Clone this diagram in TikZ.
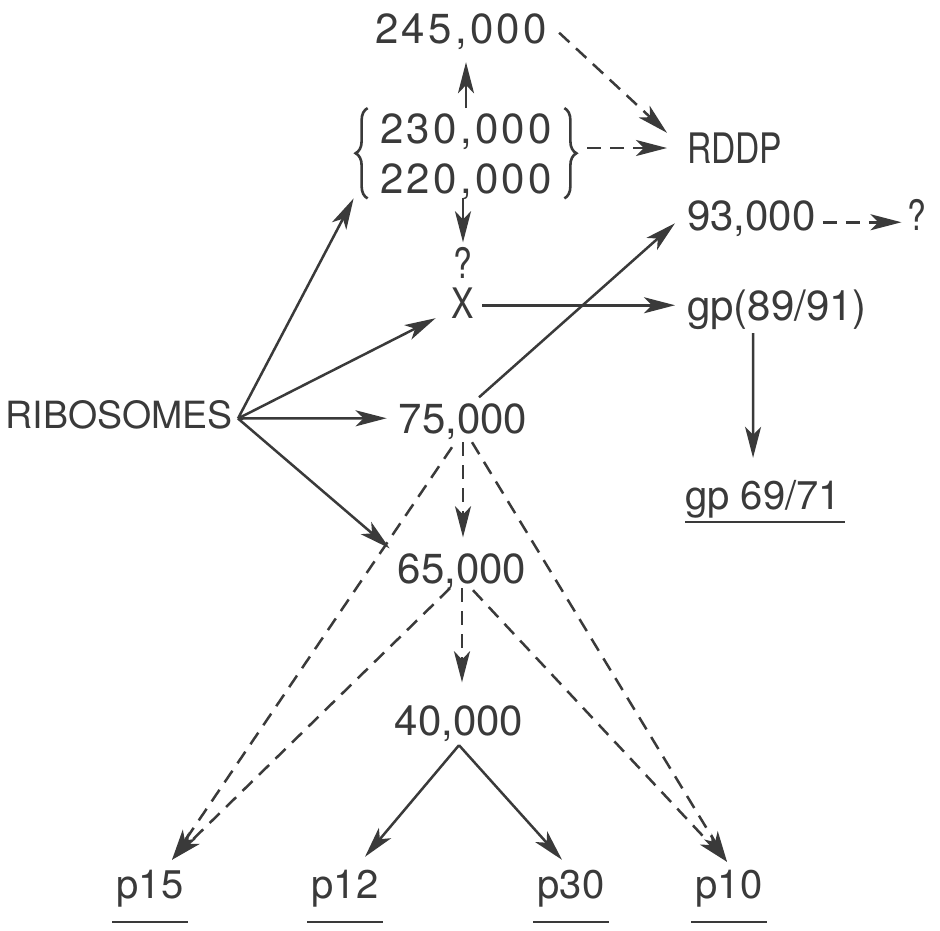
\documentclass[tikz,border=0pt]{standalone}
\usepackage{fontspec}
\setmainfont{TeX Gyre Heros}
\newfontfamily\narrowfont{TeX Gyre Heros}[FakeStretch=0.8]
\usetikzlibrary{arrows.meta,decorations.pathreplacing,fit}
\definecolor{ink}{HTML}{3A3A3A}
\tikzset{
  txt/.style={inner sep=0pt, text height=29.5pt, text depth=0pt, anchor=base,
    text=ink, font=\fontsize{42}{50}\selectfont},
  wide/.style={font=\fontsize{42}{50}\selectfont\addfontfeatures{LetterSpace=8}},
  small/.style={txt, text height=28pt, font=\fontsize{40}{48}\selectfont},
  arr/.style={draw=ink, line width=2.5pt, -{Stealth[length=31pt,width=16pt,inset=8pt]}},
  darr/.style={arr, dash pattern=on 14pt off 9pt},
  uline/.style={draw=ink, line width=2.7pt},
  bracestyle/.style={draw=ink, line width=2.6pt, decorate, decoration={brace, amplitude=12pt}},
}
\begin{document}
\begin{tikzpicture}[x=1pt, y=-1pt]
\fill[white] (0,0) rectangle (940,930);
\useasboundingbox (0,0) rectangle (940,930);

% labels
\node[txt, wide] (n245) at (461,43) {245,000};
\node[txt, wide] (n230) at (466,143) {230,000};
\node[txt, wide] (n220) at (466,193) {220,000};
\node[fit=(n230)(n220), inner xsep=12pt, inner ysep=5pt] (pair) {};
\node[txt, anchor=base west, text height=30pt, font=\narrowfont\fontsize{42}{50}\selectfont] (rddp) at (687,163) {RDDP};
\node[txt, anchor=base west] (n93) at (687,230) {93,000};
\node[txt, font=\narrowfont\fontsize{42}{50}\selectfont] (nq2) at (917,230) {?};
\node[txt, font=\narrowfont\fontsize{42}{50}\selectfont] (nq1) at (463,278) {?};
\node[txt, font=\narrowfont\fontsize{42}{50}\selectfont] (nX) at (463,318) {X};
\node[txt, anchor=base west] (ngp) at (687,320) {gp(89/91)};
\node[txt, text height=27pt, anchor=base east, font=\fontsize{37.5}{45}\selectfont] (nrib) at (233,428) {RIBOSOMES};
\node[txt] (n75) at (463,433) {75,000};
\node[small, anchor=base west] (n6971) at (685,509) {gp 69/71};
\node[txt] (n65) at (462,583) {65,000};
\node[txt] (n40) at (459,735) {40,000};
\node[small] (p15) at (150,898) {p15};
\node[small] (p12) at (345,898) {p12};
\node[small] (p30) at (571,898) {p30};
\node[small] (p10) at (729,898) {p10};

% braces round the pair of bands
\draw[bracestyle] (pair.south west) -- (pair.north west);
\draw[bracestyle] (pair.north east) -- (pair.south east);

% underlined end products
\draw[uline] ([shift={(0pt,-13pt)}]n6971.base west) -- ([shift={(4pt,-13pt)}]n6971.base east);
\foreach \n in {p15,p12,p30,p10} {
  \draw[uline] ([shift={(-4pt,-24pt)}]\n.base west) -- ([shift={(4pt,-24pt)}]\n.base east);
}

% ribosome products
\coordinate (hub) at ([shift={(5pt,-4pt)}]nrib.east);
\draw[arr] (hub) -- ([xshift=-14pt]pair.south west);
\draw[arr] (hub) -- ([xshift=-16pt]nX.south west);
\draw[arr] (hub) -- ([xshift=-12pt]n75.west);
\draw[arr] (hub) -- ([shift={(-8pt,5pt)}]n65.north west);

% upper part
\draw[arr, shorten >=19pt] (pair.north) -- (pair.north |- n245.south);
\draw[arr, shorten >=6pt] (nq1.north |- pair.south) -- (nq1.north);
\draw[darr] ([shift={(12pt,-4.5pt)}]n245.east) -- ([xshift=-20pt]rddp.north west);
\draw[darr, shorten <=23pt, shorten >=20pt] (rddp.west -| pair.east) -- (rddp.west);
\draw[darr] ([shift={(7pt,-7pt)}]n93.east) -- ([shift={(-6pt,-7pt)}]nq2.west);
\draw[arr] ([shift={(16pt,6pt)}]n75.north) -- ([shift={(-12pt,-8pt)}]n93.west);
\draw[arr, shorten <=8pt, shorten >=12pt] (ngp.west -| nX.east) -- (ngp.west);
\draw[arr, shorten >=23pt] ([shift={(-24pt,-13pt)}]ngp.south) -- ([xshift=-10pt]n6971.north);

% cleavage products
\draw[darr, shorten <=9pt, shorten >=16pt] (n75.south) -- (n75.south |- n65.north);
\draw[darr] ([shift={(-11pt,-14pt)}]n75.south) -- ([shift={(22pt,10pt)}]p15.north);
\draw[darr] ([shift={(9pt,-9pt)}]n75.south) -- ([shift={(-2pt,8pt)}]p10.north);
\draw[darr, shorten <=5pt, shorten >=23pt] (n65.south) -- (n65.south |- n40.north);
\draw[darr] ([shift={(-12pt,-5pt)}]n65.south) -- ([shift={(22pt,10pt)}]p15.north);
\draw[darr] ([shift={(11pt,-7pt)}]n65.south) -- ([shift={(-2pt,8pt)}]p10.north);
\draw[arr] ([yshift=-10pt]n40.south) -- ([shift={(20pt,13pt)}]p12.north);
\draw[arr] ([yshift=-10pt]n40.south) -- ([shift={(-9pt,10pt)}]p30.north);
\end{tikzpicture}
\end{document}
